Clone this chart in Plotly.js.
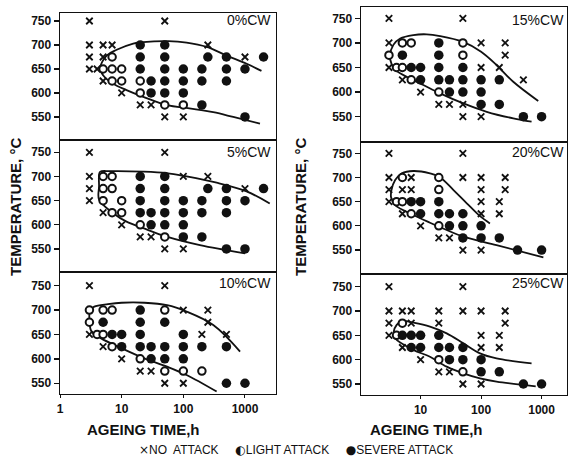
<!DOCTYPE html>
<html><head><meta charset="utf-8">
<script src="https://cdn.plot.ly/plotly-3.0.1.min.js"></script>
<style>html,body{margin:0;padding:0;background:#fff}#chart{width:569px;height:462px}</style>
</head><body><div id="chart"></div>
<script>
// [ageing time h, temperature C]
const cw0_none = [[3,750],[50,750],[3,700],[5,700],[7,700],[250,700],[3,675],[5,675],[1000,675],[3,650],[4,650],[5,625],[10,600],[20,575],[30,575],[50,550],[100,550]];
const cw0_light = [[7,675],[5,650],[7,650],[10,650],[7,625],[10,625],[20,625],[20,600],[50,575],[100,575]];
const cw0_severe = [[20,700],[50,700],[20,675],[50,675],[250,675],[500,675],[2000,675],[20,650],[50,650],[100,650],[200,650],[500,650],[1000,650],[30,625],[50,625],[100,625],[200,625],[500,625],[30,600],[50,600],[100,600],[200,575],[1000,550]];
const cw0_curve = [[1850,646],[1065,661],[502,678],[240,696],[113,705],[57,708],[22.4,706],[15.4,703],[8.3,690],[5.7,678],[4.45,651],[5.0,637],[7.3,619],[12,606],[22.4,592],[57,574],[113,569],[305,560],[645,550],[1750,536]];

const cw5_none = [[3,750],[50,750],[3,700],[100,700],[250,700],[3,675],[1000,675],[3,650],[5,625],[10,600],[20,575],[30,575],[50,550],[100,550]];
const cw5_light = [[5,700],[7,700],[5,675],[7,675],[5,650],[10,650],[7,625],[10,625],[20,600],[50,575]];
const cw5_severe = [[20,700],[50,700],[20,675],[50,675],[250,675],[500,675],[2000,675],[20,650],[50,650],[100,650],[200,650],[500,650],[1000,650],[20,625],[30,625],[50,625],[100,625],[200,625],[500,625],[30,600],[50,600],[100,600],[100,575],[200,575],[500,550],[1000,550]];
const cw5_curve = [[2520,644],[1060,669],[347,687],[113,700],[53.5,707],[22.4,710],[6.45,711],[4.5,710],[4.3,704],[4.3,680],[4.3,652],[7.3,624],[12,606.5],[22.4,593],[53.5,575.5],[186,558],[1000,541]];

const cw10_none = [[3,750],[50,750],[100,700],[250,700],[250,675],[3,650],[200,650],[500,650],[5,625],[10,600],[20,575],[30,575],[50,550],[100,550]];
const cw10_light = [[3,700],[5,700],[7,700],[50,700],[3,675],[4,650],[5,650],[7,625],[20,600],[50,575],[100,575],[200,575]];
const cw10_severe = [[20,700],[5,675],[20,675],[50,675],[7,650],[10,650],[20,650],[100,650],[10,625],[20,625],[30,625],[50,625],[100,625],[200,625],[500,625],[30,600],[50,600],[100,600],[500,550],[1000,550]];
const cw10_curve = [[832,615],[306,669.5],[113,697],[54.5,710],[23.4,715],[10,715],[6.0,712],[3.6,707],[3.08,700],[3.0,680],[3.24,656],[4.64,642],[10,621.7],[23.4,601],[54.5,584],[113,567],[347,533]];

const cw15_none = [[3,750],[50,750],[3,700],[100,700],[250,700],[250,675],[3,650],[100,650],[200,650],[5,625],[500,625],[10,600],[20,575],[30,575],[50,575],[50,550],[100,550]];
const cw15_light = [[5,700],[7,700],[50,700],[3,675],[50,675],[4,650],[5,650],[7,625],[20,600]];
const cw15_severe = [[20,700],[5,675],[20,675],[7,650],[10,650],[20,650],[50,650],[10,625],[20,625],[30,625],[50,625],[100,625],[200,625],[30,600],[50,600],[100,600],[100,575],[200,575],[500,550],[1000,550]];
const cw15_curve = [[880,582],[340,621],[180,655],[100,682],[49.5,702.5],[21,714],[12.6,717.5],[7.6,716],[4.6,709],[3.55,696],[3.1,673],[3.3,658],[3.8,645],[5.9,631],[11.1,614.4],[21,597.5],[51,577],[124,560],[340,546.6],[683,539.8]];

const cw20_none = [[3,750],[50,750],[3,700],[7,700],[50,700],[100,700],[250,700],[3,675],[5,675],[7,675],[100,675],[250,675],[3,650],[100,650],[200,650],[5,625],[100,625],[200,625],[10,600],[20,575],[30,575],[50,550],[100,550]];
const cw20_light = [[5,700],[20,700],[20,675],[4,650],[5,650],[7,625],[20,600]];
const cw20_severe = [[7,650],[10,650],[20,650],[10,625],[20,625],[30,625],[50,625],[30,600],[50,600],[100,600],[50,575],[100,575],[200,575],[400,550],[1000,550]];
const cw20_curve = [[140,605],[96,620],[58,646.6],[35,674],[20.4,701.7],[14.3,708.6],[7.6,713.4],[4.9,708.6],[3.8,695],[3.3,674],[3.25,659],[3.8,643],[7.6,622.4],[14.3,606.5],[27,591.4],[51,577.6],[180,560],[1070,534.8]];

const cw25_none = [[3,750],[50,750],[3,700],[5,700],[7,700],[20,700],[50,700],[100,700],[250,700],[3,675],[7,675],[20,675],[250,675],[3,650],[100,650],[200,650],[5,625],[100,625],[200,625],[10,600],[20,575],[30,575],[50,550],[100,550]];
const cw25_light = [[5,675],[4,650],[20,600],[50,575]];
const cw25_severe = [[5,650],[7,650],[10,650],[20,650],[7,625],[10,625],[20,625],[30,625],[50,625],[30,600],[50,600],[100,600],[100,575],[200,575],[500,550],[1000,550]];
const cw25_curve = [[683,592.5],[180,602.7],[96,613],[51,633.6],[27,654],[14.3,668],[7.6,676],[4.9,679.5],[4.0,671],[3.6,657.5],[3.8,644],[7.6,620],[14.3,606],[27,585.6],[51,572],[96,561.6],[180,555],[800,545]];

const panelLabels = ['0%CW','5%CW','10%CW','15%CW','20%CW','25%CW'];
const yTicks = [550,600,650,700,750];
const xTicks = [1,10,100,1000];
const xTickText = ['1','10','100','1000'];
const yTitle = 'TEMPERATURE, °C';
const xTitle = 'AGEING TIME,h';
const legendLabels = ['NO  ATTACK', 'LIGHT ATTACK', 'SEVERE ATTACK'];
const legendGlyphs = ['×', '◐', '●'];

const panels = [
  {none:cw0_none, light:cw0_light, severe:cw0_severe, curve:cw0_curve},
  {none:cw5_none, light:cw5_light, severe:cw5_severe, curve:cw5_curve},
  {none:cw10_none, light:cw10_light, severe:cw10_severe, curve:cw10_curve},
  {none:cw15_none, light:cw15_light, severe:cw15_severe, curve:cw15_curve},
  {none:cw20_none, light:cw20_light, severe:cw20_severe, curve:cw20_curve},
  {none:cw25_none, light:cw25_light, severe:cw25_severe, curve:cw25_curve}
];

const col = p => ({x: p.map(d => d[0]), y: p.map(d => d[1])});
const traces = [];
panels.forEach((p, i) => {
  const xa = i === 0 ? 'x' : 'x' + (i + 1);
  const ya = i === 0 ? 'y' : 'y' + (i + 1);
  const c = col(p.curve);
  traces.push({x:c.x, y:c.y, xaxis:xa, yaxis:ya, mode:'lines', line:{color:'#111', width:1.8, shape:'spline', smoothing:1}, hoverinfo:'skip', showlegend:false});
  const n = col(p.none);
  traces.push({x:n.x, y:n.y, xaxis:xa, yaxis:ya, mode:'markers', showlegend:false,
    marker:{symbol:'x-thin-open', size:6.5, color:'#111', line:{color:'#111', width:1.8}}});
  const l = col(p.light);
  traces.push({x:l.x, y:l.y, xaxis:xa, yaxis:ya, mode:'markers', showlegend:false,
    marker:{symbol:'circle', size:7.5, color:'#fff', line:{color:'#111', width:2}}});
  const s = col(p.severe);
  traces.push({x:s.x, y:s.y, xaxis:xa, yaxis:ya, mode:'markers', showlegend:false,
    marker:{symbol:'circle', size:9.5, color:'#111', line:{width:0}}});
});

const W = 569, H = 462;
const xDomL = [60/W, 276/W], xDomR = [361/W, 567/W];
const yDoms = [
  [1-140/H, 1-13/H], [1-272/H, 1-140/H], [1-394/H, 1-272/H],
  [1-142/H, 1-7/H], [1-274/H, 1-142/H], [1-395/H, 1-274/H]
];
const yRanges = [[502,766.7],[502.4,775.4],[528,778],[498.6,773],[500.4,773.4],[527.4,776]];
const xRangeL = [0, 3.503], xRangeR = [0.015, 3.42];

const tickFont = {family:'Liberation Sans Narrow, Arial Narrow, sans-serif', size:12, color:'#111', weight:700};
const layout = {
  width:W, height:H, margin:{l:0,r:0,t:0,b:0},
  paper_bgcolor:'#fff', plot_bgcolor:'#fff', showlegend:false,
  annotations:[]
};
for (let i = 0; i < 6; i++) {
  const left = i < 3;
  const bottom = (i === 2 || i === 5);
  const xk = i === 0 ? 'xaxis' : 'xaxis' + (i + 1);
  const yk = i === 0 ? 'yaxis' : 'yaxis' + (i + 1);
  const ya = i === 0 ? 'y' : 'y' + (i + 1);
  const xa = i === 0 ? 'x' : 'x' + (i + 1);
  layout[xk] = {
    type:'log', domain: left ? xDomL : xDomR, range: left ? xRangeL : xRangeR, anchor: ya,
    showline:true, mirror:true, linecolor:'#111', linewidth:1.4, showgrid:false, zeroline:false,
    tickvals:xTicks, ticktext:xTickText, ticks: bottom ? 'outside' : '', ticklen:3, tickcolor:'#111',
    showticklabels: bottom, tickfont:tickFont
  };
  layout[yk] = {
    domain: yDoms[i], range: yRanges[i], anchor: xa,
    showline:true, mirror:true, linecolor:'#111', linewidth:1.4, showgrid:false, zeroline:false,
    tickvals:yTicks, ticks:'outside', ticklen:5, tickwidth:1.3, tickcolor:'#111', tickfont:tickFont
  };
  layout.annotations.push({
    xref:'paper', yref:'paper', x: left ? 273/W : 566/W,
    y: 1 - [20,152,283,20,152,283][i]/H, xanchor:'right', yanchor:'middle', showarrow:false,
    text: panelLabels[i], font:{family:'Liberation Sans, Arial, sans-serif', size:14, color:'#111'}
  });
}
const titleFont = {family:'Liberation Sans, Arial, sans-serif', size:15, color:'#111', weight:700};
const legendText = legendLabels.map((t, k) =>
  '<span style="font-family:DejaVu Sans">' + legendGlyphs[k] + '</span>' + t).join('     ');
layout.annotations.push(
  {xref:'paper', yref:'paper', x:15/W, y:1-207/H, textangle:-90, showarrow:false, text:yTitle, font:titleFont, xanchor:'center', yanchor:'middle'},
  {xref:'paper', yref:'paper', x:300/W, y:1-207/H, textangle:-90, showarrow:false, text:yTitle, font:titleFont, xanchor:'center', yanchor:'middle'},
  {xref:'paper', yref:'paper', x:143/W, y:1-429/H, showarrow:false, text:xTitle, font:titleFont, xanchor:'center', yanchor:'middle'},
  {xref:'paper', yref:'paper', x:426/W, y:1-429/H, showarrow:false, text:xTitle, font:titleFont, xanchor:'center', yanchor:'middle'},
  {xref:'paper', yref:'paper', x:296/W, y:1-450/H, showarrow:false, text:legendText, font:{family:'Liberation Sans Narrow, Arial Narrow, sans-serif', size:12, color:'#111'}, xanchor:'center', yanchor:'middle'}
);
Plotly.newPlot('chart', traces, layout, {staticPlot:true, displayModeBar:false});
</script></body></html>
